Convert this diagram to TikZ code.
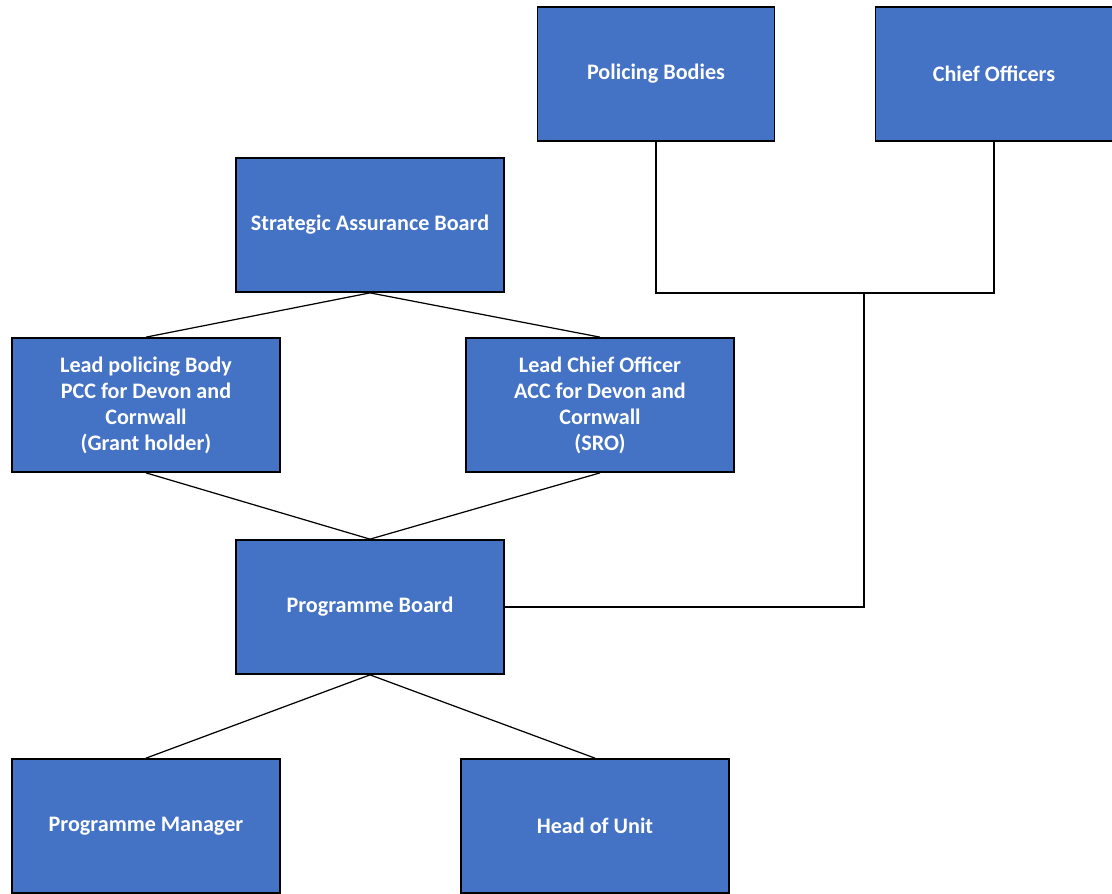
\documentclass[tikz,border=0pt]{standalone}
\usepackage{fontspec}
\setmainfont{Carlito}
\definecolor{boxblue}{HTML}{4472C4}
\tikzset{
  board/.style={draw=black, line width=1pt, fill=boxblue, text=white,
    font=\bfseries\fontsize{12.6}{14.8}\selectfont, align=center,
    minimum width=5.36cm, minimum height=2.68cm, inner sep=0pt},
  link/.style={draw=black, line width=0.7pt}
}
\begin{document}
\begin{tikzpicture}[x=0.02cm,y=-0.02cm]
\useasboundingbox (0,0) rectangle (1112,893);
\node[board, minimum width=4.74cm] (pbod) at (656,74){Policing Bodies};
\node[board, minimum width=4.74cm] (chief) at (994,74){Chief Officers};
\node[board] (sab) at (370,225){Strategic Assurance Board};
\node[board] (lpb) at (146,405){Lead policing Body\\PCC for Devon and\\Cornwall\\(Grant holder)};
\node[board] (lco) at (600,405){Lead Chief Officer\\ACC for Devon and\\Cornwall\\(SRO)};
\node[board] (pb) at (370,607){Programme Board};
\node[board] (pm) at (146,826){Programme Manager};
\node[board] (hou) at (595,826){Head of Unit};
\coordinate (jn) at (864,293);
\draw[link](sab.south) -- (lpb.north);
\draw[link](sab.south) -- (lco.north);
\draw[link](lpb.south) -- (pb.north);
\draw[link](lco.south) -- (pb.north);
\draw[link](pb.south) -- (pm.north);
\draw[link](pb.south) -- (hou.north);
\draw[link](pb.east) -| (jn);
\draw[link](pbod.south) |- (jn) -| (chief.south);
\end{tikzpicture}
\end{document}
